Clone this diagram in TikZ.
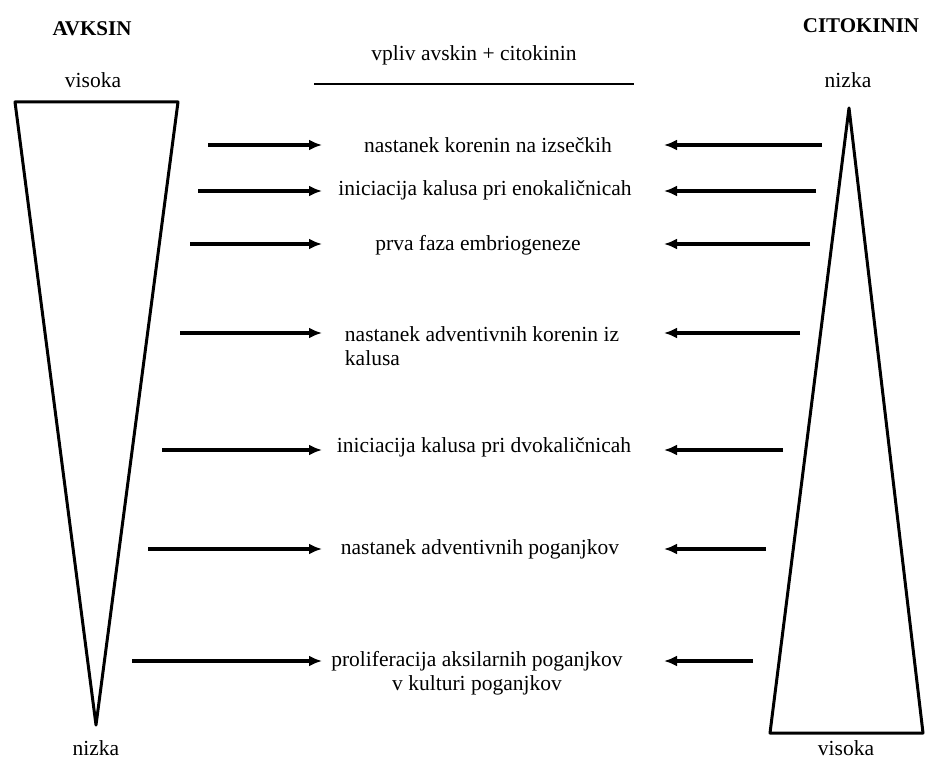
\documentclass[tikz,border=0pt]{standalone}
\usepackage{fontspec}
\setmainfont{Liberation Serif}
\usepackage{tikz}
\usetikzlibrary{arrows.meta, positioning}

\begin{document}
\begin{tikzpicture}[
  x=1pt, y=-1pt,
  lbl/.style={inner sep=1pt, font=\fontsize{21.5}{25}\selectfont},
  ttl/.style={inner sep=1pt, font=\fontsize{21}{25}\selectfont\bfseries},
  effect/.style={inner sep=1pt, align=center, font=\fontsize{21.5}{24}\selectfont},
  arr/.style={-{Latex[length=13pt, width=11pt]}, line width=3.2pt},
  cone/.style={line width=3pt, line join=round}
]
\useasboundingbox (0,0) rectangle (925,759);

% titles and levels
\node[ttl] (avksin) at (92,29) {AVKSIN};
\node[ttl] (citokinin) at (861,26) {CITOKININ};
\node[lbl] (avkhigh) at (93,80) {visoka};
\node[lbl] (citlow) at (848,80) {nizka};
\node[lbl] (avklow) at (96,748) {nizka};
\node[lbl] (cithigh) at (846,748) {visoka};

% concentration cones
\draw[cone] (15,102) -- (178,102) -- (96,725) -- cycle;
\draw[cone] (849,108) -- (923,733) -- (770,733) -- cycle;

% heading
\node[lbl] (head) at (474,55) {vpliv avskin + citokinin};
\coordinate (rulel) at (314,84);
\coordinate (ruler) at (634,84);
\draw[line width=2.6pt] (rulel) -- (ruler);

% effects
\node[effect] (e1) at (488,145) {nastanek korenin na izsečkih};
\node[effect] (e2) at (485,190) {iniciacija kalusa pri enokaličnicah};
\node[effect] (e3) at (478,245) {prva faza embriogeneze};
\node[effect, align=left] (e4) at (482,346) {nastanek adventivnih korenin iz\\kalusa};
\node[effect] (e5) at (484,447) {iniciacija kalusa pri dvokaličnicah};
\node[effect] (e6) at (480,549) {nastanek adventivnih poganjkov};
\node[effect] (e7) at (477,673) {proliferacija aksilarnih poganjkov\\v kulturi poganjkov};

% arrow ends
\coordinate (a1) at (208,145);  \coordinate (b1) at (822,145);
\coordinate (a2) at (198,191);  \coordinate (b2) at (816,191);
\coordinate (a3) at (190,244);  \coordinate (b3) at (810,244);
\coordinate (a4) at (180,333);  \coordinate (b4) at (800,333);
\coordinate (a5) at (162,450);  \coordinate (b5) at (783,450);
\coordinate (a6) at (148,549);  \coordinate (b6) at (766,549);
\coordinate (a7) at (132,661);  \coordinate (b7) at (753,661);

\foreach \i in {1,...,7} {
  \draw[arr] (a\i) -- (a\i -| 322,0);
  \draw[arr] (b\i) -- (b\i -| 664,0);
}
\end{tikzpicture}
\end{document}
